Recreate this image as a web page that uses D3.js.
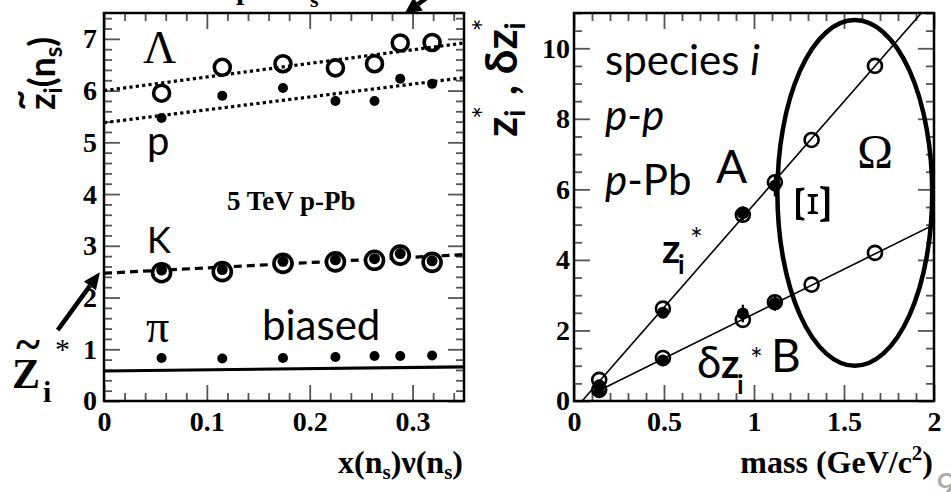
<!DOCTYPE html>
<html><head><meta charset="utf-8">
<script src="https://cdn.jsdelivr.net/npm/d3@7"></script>
<style>body{margin:0;background:#fff} svg{display:block}</style>
</head><body><div id="chart"></div>
<script>
// left panel, x = x(n_s)nu(n_s)
const nsX = [0.056, 0.115, 0.174, 0.225, 0.263, 0.288, 0.319];
const lambdaZ = [5.95, 6.45, 6.52, 6.44, 6.52, 6.92, 6.93];
const protonZ = [5.47, 5.9, 6.05, 5.8, 5.8, 6.23, 6.13];
const kaonZOpen = [2.48, 2.5, 2.66, 2.69, 2.72, 2.82, 2.68];
const kaonZFill = [2.53, 2.54, 2.7, 2.73, 2.75, 2.85, 2.71];
const pionZ = [0.83, 0.82, 0.83, 0.85, 0.87, 0.87, 0.88];
const lambdaFit = [[0, 6.0], [0.35, 6.92]];
const protonFit = [[0, 5.38], [0.35, 6.25]];
const kaonFit = [[0, 2.47], [0.35, 2.83]];
const pionFit = [[0, 0.58], [0.35, 0.66]];
const leftXTicks = [0, 0.1, 0.2, 0.3];
const leftYTicks = [0, 1, 2, 3, 4, 5, 6, 7];

// right panel, x = mass
const masses = [0.14, 0.494, 0.938, 1.116, 1.32, 1.672];
const zStarPP = [0.6, 2.62, 5.28, 6.2, 7.4, 9.5];
const zStarPPb = [0.45, 2.5, 5.32, 6.1];
const zStarErr = [0.1, 0.15, 0.2, 0.3];
const dzStarPP = [0.32, 1.22, 2.3, 2.8, 3.3, 4.2];
const dzStarPPb = [0.25, 1.15, 2.48, 2.78];
const dzStarErr = [0.1, 0.1, 0.25, 0.22];
const lineA = [[0.045, 0], [1.93, 11]];
const lineB = [[0.1, 0.2], [2.0, 5.0]];
const rightXTicks = [0, 0.5, 1, 1.5, 2];
const rightYTicks = [0, 2, 4, 6, 8, 10];

const W = 951, H = 492;
const svg = d3.select("#chart").append("svg").attr("width", W).attr("height", H);
svg.append("rect").attr("width", W).attr("height", H).attr("fill", "#fff");

const serif = "'Liberation Serif', 'Times New Roman', serif";
const sans = "Lato, 'Open Sans', sans-serif";

const xL = d3.scaleLinear().domain([0, 0.35]).range([104, 464]);
const yL = d3.scaleLinear().domain([0, 7.5]).range([401, 13]);
const xR = d3.scaleLinear().domain([0, 2]).range([574, 934]);
const yR = d3.scaleLinear().domain([0, 11]).range([401, 13]);

function minors(step, max, majorStep) {
    const out = [];
    for (let i = 1; i * step <= max + 1e-9; i++) {
        const v = +(i * step).toFixed(4);
        if (Math.abs(v / majorStep - Math.round(v / majorStep)) > 1e-6) out.push(v);
    }
    return out;
}

function frame(x, y, xMaj, xMin, yMaj, yMin, fmt, padY) {
    const g = svg.append("g");
    const [x0, x1] = x.range(), [y0, y1] = y.range();
    const sets = [
        [d3.axisBottom, y0, xMaj, 16, true], [d3.axisBottom, y0, xMin, 8, false],
        [d3.axisTop, y1, xMaj, 16, false], [d3.axisTop, y1, xMin, 8, false]
    ];
    sets.forEach(([ax, pos, vals, len, lab]) => {
        g.append("g").attr("transform", `translate(0,${pos})`)
            .call(ax(x).tickValues(vals).tickSize(-len).tickPadding(10)
                .tickFormat(lab ? fmt : ""));
    });
    const ysets = [
        [d3.axisLeft, x0, yMaj, 16, true], [d3.axisLeft, x0, yMin, 8, false],
        [d3.axisRight, x1, yMaj, 16, false], [d3.axisRight, x1, yMin, 8, false]
    ];
    ysets.forEach(([ax, pos, vals, len, lab]) => {
        g.append("g").attr("transform", `translate(${pos},0)`)
            .call(ax(y).tickValues(vals).tickSize(-len).tickPadding(padY)
                .tickFormat(lab ? fmt : ""));
    });
    g.selectAll(".domain").remove();
    g.selectAll(".tick line").attr("stroke", "#555").attr("stroke-width", 1.8);
    g.selectAll(".tick text").attr("font-family", serif).attr("font-weight", "bold")
        .attr("font-size", 28).attr("fill", "#000");
    g.append("rect").attr("x", x0).attr("y", y1).attr("width", x1 - x0).attr("height", y0 - y1)
        .attr("fill", "none").attr("stroke", "#000").attr("stroke-width", 2.5);
}

frame(xL, yL, leftXTicks, minors(0.02, 0.35, 0.1), leftYTicks, minors(0.2, 7.5, 1), d3.format("~g"), 7);
frame(xR, yR, rightXTicks, minors(0.1, 2, 0.5), rightYTicks, minors(0.5, 11, 2), d3.format("~g"), 4);

// left panel marks
const lineL = d3.line().x(d => xL(d[0])).y(d => yL(d[1]));
svg.append("path").attr("d", lineL(lambdaFit)).attr("fill", "none").attr("stroke", "#000")
    .attr("stroke-width", 3.2).attr("stroke-dasharray", "3.2,3.2");
svg.append("path").attr("d", lineL(protonFit)).attr("fill", "none").attr("stroke", "#000")
    .attr("stroke-width", 3.2).attr("stroke-dasharray", "3.2,3.2");
svg.append("path").attr("d", lineL(kaonFit)).attr("fill", "none").attr("stroke", "#000")
    .attr("stroke-width", 3.2).attr("stroke-dasharray", "8,5");
svg.append("path").attr("d", lineL(pionFit)).attr("fill", "none").attr("stroke", "#000")
    .attr("stroke-width", 3.2);

svg.append("g").selectAll("circle").data(nsX).join("circle")
    .attr("cx", d => xL(d)).attr("cy", (d, i) => yL(lambdaZ[i])).attr("r", 8)
    .attr("fill", "none").attr("stroke", "#000").attr("stroke-width", 3.6);
svg.append("g").selectAll("circle").data(nsX).join("circle")
    .attr("cx", d => xL(d)).attr("cy", (d, i) => yL(protonZ[i])).attr("r", 5);
svg.append("g").selectAll("circle").data(nsX).join("circle")
    .attr("cx", d => xL(d)).attr("cy", (d, i) => yL(kaonZOpen[i])).attr("r", 9)
    .attr("fill", "#fff").attr("stroke", "#000").attr("stroke-width", 3.6);
svg.append("g").selectAll("circle").data(nsX).join("circle")
    .attr("cx", d => xL(d)).attr("cy", (d, i) => yL(kaonZFill[i])).attr("r", 5.5);
svg.append("g").selectAll("circle").data(nsX).join("circle")
    .attr("cx", d => xL(d)).attr("cy", (d, i) => yL(pionZ[i])).attr("r", 5);

// right panel marks
const lineR = d3.line().x(d => xR(d[0])).y(d => yR(d[1]));
svg.append("clipPath").attr("id", "clipR").append("rect")
    .attr("x", 574).attr("y", 13).attr("width", 360).attr("height", 388);
const gR = svg.append("g").attr("clip-path", "url(#clipR)");
gR.append("path").attr("d", lineR(lineA)).attr("fill", "none").attr("stroke", "#000").attr("stroke-width", 1.6);
gR.append("path").attr("d", lineR(lineB)).attr("fill", "none").attr("stroke", "#000").attr("stroke-width", 1.6);

[[zStarPPb, zStarErr], [dzStarPPb, dzStarErr]].forEach(([vals, errs]) => {
    gR.append("g").selectAll("line").data(vals).join("line")
        .attr("x1", (d, i) => xR(masses[i])).attr("x2", (d, i) => xR(masses[i]))
        .attr("y1", (d, i) => yR(d - errs[i])).attr("y2", (d, i) => yR(d + errs[i]))
        .attr("stroke", "#000").attr("stroke-width", 2.2);
    gR.append("g").selectAll("circle").data(vals).join("circle")
        .attr("cx", (d, i) => xR(masses[i])).attr("cy", d => yR(d)).attr("r", 6);
});
[zStarPP, dzStarPP].forEach(vals => {
    gR.append("g").selectAll("circle").data(vals).join("circle")
        .attr("cx", (d, i) => xR(masses[i])).attr("cy", d => yR(d)).attr("r", 7)
        .attr("fill", "none").attr("stroke", "#000").attr("stroke-width", 2.6);
});

// ellipse round the multistrange baryons
const ell = {cx: 1.56, cy: 5.9, rx: 0.43, ry: 4.9};
svg.append("ellipse").attr("cx", xR(ell.cx)).attr("cy", yR(ell.cy))
    .attr("rx", xR(ell.cx + ell.rx) - xR(ell.cx)).attr("ry", yR(ell.cy - ell.ry) - yR(ell.cy))
    .attr("fill", "none").attr("stroke", "#000").attr("stroke-width", 4.5);

// arrows
function arrow(x1, y1, x2, y2, len, wid, sw) {
    const a = Math.atan2(y2 - y1, x2 - x1);
    const bx = x2 - len * Math.cos(a), by = y2 - len * Math.sin(a);
    svg.append("line").attr("x1", x1).attr("y1", y1).attr("x2", bx).attr("y2", by)
        .attr("stroke", "#000").attr("stroke-width", sw);
    const px = Math.sin(a) * wid / 2, py = -Math.cos(a) * wid / 2;
    svg.append("path").attr("d", `M${x2},${y2}L${bx + px},${by + py}L${bx - px},${by - py}Z`);
}
arrow(xL(-0.045), yL(1.37), xL(-0.004), yL(2.49), 17, 15, 4.5);
arrow(xL(0.335), yL(8.1), xL(0.292), yL(7.48), 17, 16, 4.5);

// text helpers
function txt(x, y, s, font, size, opts = {}) {
    return svg.append("text").attr("x", x).attr("y", y).text(s)
        .attr("font-family", font).attr("font-size", size)
        .attr("font-weight", opts.bold ? "bold" : "normal")
        .attr("font-style", opts.italic ? "italic" : "normal")
        .attr("text-anchor", opts.anchor || "start")
        .attr("fill", opts.fill || "#000");
}

// left panel labels
txt(143, 63, "Λ", serif, 46);
txt(147, 155, "p", sans, 40);
txt(147, 253, "K", sans, 36);
txt(146, 342, "π", serif, 46);
txt(262, 340, "biased", sans, 42);
txt(227, 210, "5 TeV p-Pb", serif, 27, {bold: true});
// Z~_i*
txt(12, 388, "Z", serif, 42, {bold: true});
txt(28, 360, "~", serif, 46, {bold: true, anchor: "middle"});
txt(43, 402, "i", serif, 30, {bold: true});
txt(55, 359, "*", serif, 30);

// left y title, rotated
const tl = svg.append("text").attr("transform", "translate(55,110) rotate(-90)")
    .attr("font-family", sans).attr("font-weight", "bold").attr("font-size", 36);
tl.append("tspan").text("z");
tl.append("tspan").text("i").attr("font-size", 24).attr("dy", 7);
tl.append("tspan").text("(n").attr("dy", -7);
tl.append("tspan").text("s").attr("font-size", 24).attr("dy", 7);
tl.append("tspan").text(")").attr("dy", -7);
svg.append("text").attr("transform", "translate(32,100) rotate(-90)")
    .attr("font-family", sans).attr("font-weight", "bold").attr("font-size", 36)
    .attr("text-anchor", "middle").text("~");

// x titles
const xt1 = txt(463, 473, "", serif, 32, {bold: true, anchor: "end"});
xt1.append("tspan").text("x(n");
xt1.append("tspan").text("s").attr("font-size", 21).attr("dy", 6);
xt1.append("tspan").text(")ν(n").attr("dy", -6);
xt1.append("tspan").text("s").attr("font-size", 21).attr("dy", 6);
xt1.append("tspan").text(")").attr("dy", -6);
const xt2 = txt(933, 473, "", serif, 32, {bold: true, anchor: "end"});
xt2.append("tspan").text("mass (GeV/c");
xt2.append("tspan").text("2").attr("font-size", 21).attr("dy", -13);
xt2.append("tspan").text(")").attr("dy", 13);

// right y title, rotated
const tr = svg.append("text").attr("transform", "translate(517,137) rotate(-90)")
    .attr("font-family", sans).attr("font-weight", "bold").attr("font-size", 44);
tr.append("tspan").text("z");
tr.append("tspan").text("i").attr("font-size", 28).attr("dy", 8);
tr.append("tspan").text("*").attr("font-size", 30).attr("dx", -9).attr("dy", -30).attr("font-weight", "normal");
tr.append("tspan").text(" , δz").attr("dy", 22);
tr.append("tspan").text("i").attr("font-size", 28).attr("dy", 8);
tr.append("tspan").text("*").attr("font-size", 30).attr("dx", -9).attr("dy", -30).attr("font-weight", "normal");

// right panel labels
const sp = txt(605, 75, "species ", sans, 42);
sp.append("tspan").text("i").attr("font-style", "italic");
txt(605, 130, "p-p", sans, 42, {italic: true});
const ppb = txt(605, 195, "p", sans, 42, {italic: true});
ppb.append("tspan").text("-Pb").attr("font-style", "normal");
txt(716, 183, "A", sans, 46);
txt(875, 168, "Ω", serif, 48, {anchor: "middle"});
svg.append("text").attr("transform", "translate(829,204) rotate(-90) scale(1.35,1)")
    .attr("font-family", serif).attr("font-size", 50).attr("text-anchor", "middle").text("Ξ");
txt(662, 263, "z", sans, 40, {bold: true});
txt(678, 274, "i", sans, 26, {bold: true});
txt(690, 250, "*", sans, 30);
txt(697, 378, "δ", sans, 44);
txt(721, 378, "z", sans, 40, {bold: true});
txt(737, 394, "i", sans, 26, {bold: true});
txt(750, 370, "*", sans, 30);
txt(771, 372, "B", sans, 46);

// clipped fragments of a title above the picture
txt(236, -1, "p", serif, 30, {bold: true});
txt(310, 7, "s", serif, 22, {bold: true});
txt(936, 499, "9", sans, 36, {fill: "#aaa"});
</script>
</body></html>
